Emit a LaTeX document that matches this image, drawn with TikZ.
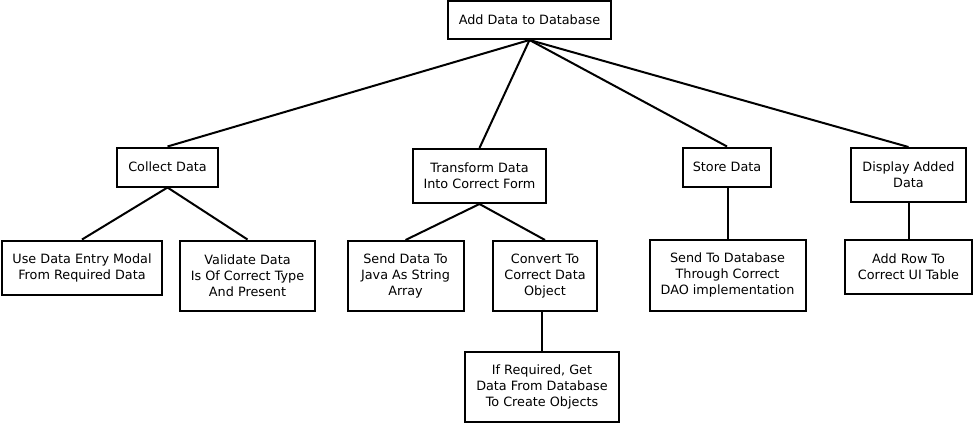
\documentclass[tikz,border=0pt]{standalone}
\usepackage{fontspec}
\setmainfont{DejaVu Sans}
\begin{document}
\begin{tikzpicture}[x=1pt,y=-1pt,
  bx/.style={draw=black,line width=2pt,align=center,inner sep=0pt,
    font=\fontsize{12.8}{16}\selectfont},
  ln/.style={line width=2pt}]
\useasboundingbox (0,0) rectangle (974,424);
\fill[white] (0,0) rectangle (974,424);
% boxes: center, width, height
\node[bx,minimum width=163pt,minimum height=38pt] (root) at (529.5,20) {Add Data to Database};
\node[bx,minimum width=101pt,minimum height=39pt] (collect) at (167.5,167) {Collect Data};
\node[bx,minimum width=133pt,minimum height=54pt] (trans) at (479.5,176) {Transform Data\\Into Correct Form};
\node[bx,minimum width=88pt,minimum height=39pt] (store) at (727,167) {Store Data};
\node[bx,minimum width=115pt,minimum height=54pt] (disp) at (908.5,175) {Display Added\\Data};
\node[bx,minimum width=160pt,minimum height=54pt] (use) at (82,267.5) {Use Data Entry Modal\\From Required Data};
\node[bx,minimum width=135pt,minimum height=70pt] (valid) at (247.5,275.5) {Validate Data\\Is Of Correct Type\\And Present};
\node[bx,minimum width=116pt,minimum height=70pt] (java) at (405.5,276) {Send Data To\\Java As String\\Array};
\node[bx,minimum width=104pt,minimum height=70pt] (conv) at (545,276) {Convert To\\Correct Data\\Object};
\node[bx,minimum width=154pt,minimum height=70pt] (ifreq) at (542,386.5) {If Required, Get\\Data From Database\\To Create Objects};
\node[bx,minimum width=156pt,minimum height=71pt] (send) at (727.5,275) {Send To Database\\Through Correct\\DAO implementation};
\node[bx,minimum width=127pt,minimum height=54pt] (row) at (908.5,267) {Add Row To\\Correct UI Table};
% connectors
\draw[ln] (root.south) -- (collect.north);
\draw[ln] (root.south) -- (trans.north);
\draw[ln] (root.south) -- (store.north);
\draw[ln] (root.south) -- (disp.north);
\draw[ln] (collect.south) -- (use.north);
\draw[ln] (collect.south) -- (valid.north);
\draw[ln] (trans.south) -- (java.north);
\draw[ln] (trans.south) -- (conv.north);
\draw[ln] (conv.south -| ifreq.north) -- (ifreq.north);
\draw[ln] (store.south -| send.north) -- (send.north);
\draw[ln] (disp.south) -- (row.north);
\end{tikzpicture}
\end{document}
